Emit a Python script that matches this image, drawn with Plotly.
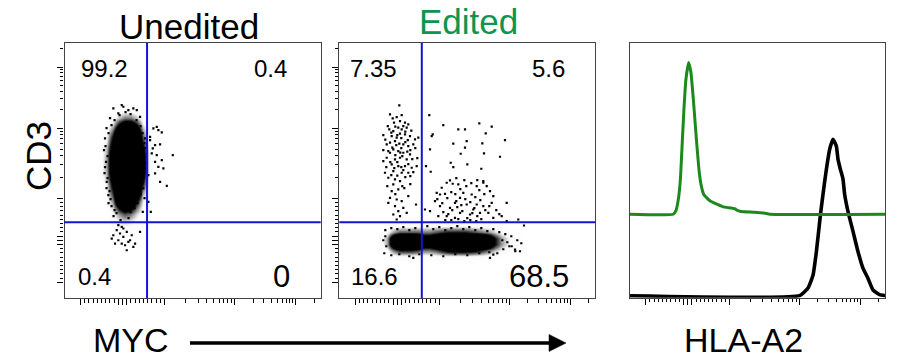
import numpy as np
import plotly.graph_objects as go

# ---------------------------------------------------------------------------
# Data (all event positions are in display channels, 0-256 on each axis)
# ---------------------------------------------------------------------------
PANEL_TITLES = ["Unedited", "Edited"]
QUADRANT_PCT_UNEDITED = ["99.2", "0.4", "0.4", "0"]     # UL, UR, LL, LR
QUADRANT_PCT_EDITED = ["7.35", "5.6", "16.6", "68.5"]   # UL, UR, LL, LR

MYC_GATE = 82.5   # channel of the MYC quadrant gate
CD3_GATE = 76.0   # channel of the CD3 quadrant gate

# logicle-style display scale: linear below 10^3, log above
SCALE_S = [-1.0, 0.0, 1.0, 2.0, 3.0, 3.42]
SCALE_CH = [16.0, 58.0, 100.0, 170.0, 231.0, 257.0]
MAJOR_TICKS = [-1000, -100, 0, 100, 1000, 10000, 100000]
MINOR_TICKS = ([-v for v in range(200, 1000, 100)] + list(range(200, 1000, 100))
               + list(range(2000, 10000, 1000)) + list(range(20000, 100000, 10000))
               + [200000])

# --- Unedited: event density grid (CD3 rows x MYC columns) ---
UNEDITED_MYC_BINS = [36, 42, 48, 54, 60, 66, 72, 78, 84, 90]
UNEDITED_CD3_BINS = [66, 72, 78, 84, 90, 96, 102, 108, 114, 120, 126, 132,
                     138, 144, 150, 156, 162, 168, 174, 180, 186, 192]
UNEDITED_DENSITY = [
    [0, 0, 0, 0.4, 0.6, 0.4, 0.2, 0, 0, 0],
    [0, 0, 0.2, 0.6, 0.8, 0.6, 0.3, 0, 0, 0],
    [0, 0, 0.3, 1, 1.5, 1.2, 0.6, 0.2, 0, 0],
    [0, 0, 0.6, 2, 3, 2.5, 1.2, 0.3, 0, 0],
    [0, 0.2, 1.2, 4, 6, 5, 2.5, 0.6, 0, 0],
    [0, 0.3, 2, 7, 9, 8, 4, 1, 0.1, 0],
    [0, 0.5, 3, 9, 10, 10, 7, 1.5, 0.2, 0],
    [0, 0.8, 4, 10, 10, 10, 9, 2.5, 0.3, 0],
    [0, 1, 5, 10, 10, 10, 10, 4, 0.5, 0],
    [0.2, 1.5, 6, 10, 10, 10, 10, 5, 0.8, 0],
    [0.2, 1.8, 7, 10, 10, 10, 10, 6, 1, 0],
    [0.2, 2, 7, 10, 10, 10, 10, 6, 1, 0],
    [0.2, 2, 7, 10, 10, 10, 10, 6, 1, 0],
    [0.2, 1.8, 7, 10, 10, 10, 10, 6, 1, 0],
    [0.1, 1.5, 6, 10, 10, 10, 10, 5, 0.8, 0],
    [0, 1, 5, 10, 10, 10, 10, 4, 0.5, 0],
    [0, 0.6, 4, 9, 10, 10, 9, 3, 0.3, 0],
    [0, 0.3, 2.5, 7, 9, 9, 7, 2, 0.2, 0],
    [0, 0.1, 1, 4, 6, 6, 4, 1, 0, 0],
    [0, 0, 0.4, 1.5, 2.5, 2.5, 1.5, 0.4, 0, 0],
    [0, 0, 0.1, 0.5, 0.8, 0.8, 0.5, 0.1, 0, 0],
    [0, 0, 0, 0.1, 0.2, 0.2, 0.1, 0, 0, 0],
]
# --- Unedited: individual sparse events ---
UNEDITED_EVENTS = [
    (88.8, 169.7), (92.2, 171.3), (93.8, 168), (97.2, 165.7), (85.5, 161.3),
    (90.5, 153), (95.5, 153.7), (87.2, 144.7), (92.2, 143), (108.2, 143),
    (90.5, 136.3), (97.2, 138), (93.8, 131.3), (90.5, 124.7), (98.8, 129.7),
    (95.5, 116.3), (102.2, 112.3), (85.5, 158), (88.2, 149.7), (86.2, 86.3),
    (78.2, 86.3), (83.8, 96.3),
    (48.8, 189.7), (58.8, 191.3), (63.8, 188), (68.8, 189.7), (72.2, 188),
    (53.8, 184.7), (45.5, 180), (75.5, 181.3), (57.2, 193),
    (40.5, 159.7), (41.5, 136.3), (42.2, 116.3), (43.8, 103), (80.5, 159.7),
    (81.5, 129.7), (78.8, 109.7), (83.8, 123), (39.5, 148), (40, 125),
    (44, 95), (80, 100), (82, 140), (81, 150),
    (53.8, 73), (57.2, 71.3), (58.8, 69.7), (52.2, 68), (62.2, 66.3),
    (55.5, 64.7), (48.8, 63), (58.8, 61.3), (67.2, 63), (75.5, 66.3),
    (53.8, 58), (63.8, 56.3), (57.2, 54.7), (50.5, 54.7), (60.5, 53),
    (68.8, 51.3), (65.5, 58), (47.2, 59.7), (70.5, 54.7), (62.2, 48),
    (42, 170), (44, 165), (41, 152), (43, 142), (40.5, 131), (43, 120),
    (42, 110), (45, 107), (46, 99), (47, 92), (50, 88), (52, 85), (66, 86),
    (70, 90), (73, 95), (76, 104), (78, 115), (79, 121), (80.5, 135),
    (79, 145), (80, 155), (78, 165), (76, 172), (72, 178), (50, 178),
    (47, 173), (55, 183), (66, 184), (61, 186), (49, 82), (64, 80), (56, 78),
]

# --- Edited: event density grid for the CD3-low band ---
EDITED_MYC_BINS = [42, 48, 54, 60, 66, 72, 78, 84, 90, 96, 102, 108, 114, 120,
                   126, 132, 138, 144, 150, 156, 162, 168, 174, 180, 186]
EDITED_CD3_BINS = [36, 42, 48, 54, 60, 66, 72, 78]
EDITED_DENSITY = [
    [0, 0, 0, 0.05, 0.05, 0.05, 0.05, 0.05, 0.05, 0.05, 0.1, 0.1, 0.1, 0.1,
     0.1, 0.1, 0.05, 0.05, 0, 0, 0, 0, 0, 0, 0],
    [0, 0.1, 0.3, 0.4, 0.4, 0.4, 0.4, 0.4, 0.4, 0.4, 0.5, 0.6, 0.6, 0.6,
     0.6, 0.6, 0.5, 0.4, 0.3, 0.2, 0.1, 0.1, 0, 0, 0],
    [0.1, 0.6, 2.5, 4, 4, 4, 3.5, 2.5, 2.5, 3, 4, 5, 5.5, 5.5,
     5.5, 5, 4.5, 3.5, 2.5, 1.5, 0.8, 0.4, 0.2, 0.1, 0],
    [0.3, 2, 7, 10, 10, 10, 9, 6, 6, 7.5, 9, 10, 10, 10,
     10, 10, 10, 9, 7, 4, 2, 1, 0.5, 0.2, 0],
    [0.3, 2, 7, 10, 10, 10, 9, 6, 6, 7.5, 9, 10, 10, 10,
     10, 10, 10, 9, 7, 4, 2, 1, 0.5, 0.2, 0],
    [0.1, 0.6, 2, 3, 3, 3, 3, 2.5, 2.5, 3, 3.5, 4, 4, 4,
     4, 3.5, 3, 2.5, 2, 1.2, 0.6, 0.3, 0.2, 0.1, 0],
    [0, 0.1, 0.4, 0.5, 0.5, 0.6, 0.6, 0.6, 0.6, 0.7, 0.7, 0.7, 0.7, 0.7,
     0.7, 0.6, 0.5, 0.4, 0.3, 0.2, 0.1, 0.1, 0, 0, 0],
    [0, 0, 0.1, 0.15, 0.2, 0.2, 0.2, 0.2, 0.2, 0.2, 0.2, 0.2, 0.2, 0.2,
     0.2, 0.2, 0.15, 0.1, 0.1, 0.05, 0, 0, 0, 0, 0],
]
# --- Edited: individual sparse events ---
EDITED_EVENTS = [
    # CD3+ MYC- column
    (60.0, 192.7), (50.7, 183.7), (53.4, 179.7), (57.4, 181.0), (62.4, 183.0),
    (54.7, 175.4), (60.7, 177.0), (65.7, 175.4), (69.0, 173.7), (64.0, 172.0),
    (59.0, 170.4), (50.0, 168.7), (54.0, 167.0), (62.4, 168.7), (67.4, 170.4),
    (44.0, 163.0), (52.4, 162.0), (57.4, 160.4), (60.7, 164.4), (65.7, 163.7),
    (70.7, 162.0), (75.7, 158.7), (55.7, 157.0), (50.7, 155.4), (47.4, 153.7),
    (60.0, 154.4), (64.0, 153.7), (69.0, 152.0), (74.0, 153.7), (79.0, 160.4),
    (54.0, 148.7), (59.0, 147.0), (50.7, 145.4), (64.0, 145.4), (70.7, 143.7),
    (47.4, 140.4), (55.7, 138.7), (60.7, 140.4), (67.4, 138.7), (44.0, 137.0),
    (52.4, 133.7), (59.0, 132.0), (65.7, 132.0), (72.4, 130.4), (77.4, 132.0),
    (45.7, 125.4), (54.0, 127.0), (62.4, 125.4), (69.0, 125.4), (49.0, 120.4),
    (55.7, 118.7), (60.7, 117.0), (54.0, 113.7), (59.0, 108.7), (52.4, 107.0),
    (50.7, 100.4), (57.4, 98.7), (62.4, 97.0), (69.0, 102.0), (49.0, 95.4),
    (55.7, 92.0), (64.0, 90.4), (59.0, 87.0), (54.0, 83.7), (60.7, 82.0),
    (67.4, 85.4), (57.4, 78.7), (76.7, 93.7),
    (48.5, 172), (52, 165.5), (56, 171.5), (58, 163), (62, 160), (66, 166.5),
    (68.5, 158), (72, 167.5), (46, 158.5), (53, 150.5), (57, 153), (62, 150),
    (66, 156), (71, 148), (76, 150), (49, 147), (56, 143), (63, 142),
    (68, 146.5), (73, 139), (51, 136), (58, 136), (62, 131), (69, 134),
    (74, 126), (47, 131), (55, 130), (64, 128), (71, 122), (78, 140),
    (44, 148), (61, 145.5), (66, 121), (52, 123), (58, 122.5), (63, 112),
    (56, 104), (65, 110), (48, 112), (71, 114),
    # CD3+ MYC+ events
    (90.0, 183.0), (104.0, 173.0), (119.0, 168.7), (125.7, 168.7), (93.4, 163.7),
    (92.4, 162.0), (127.4, 157.0), (114.0, 154.4), (125.7, 150.4), (90.7, 148.7),
    (121.4, 144.4), (111.4, 135.4), (114.0, 131.0), (128.0, 133.7), (86.7, 132.0),
    (91.4, 126.4), (110.7, 117.7), (107.4, 115.4), (113.4, 114.4), (119.0, 113.7),
    (102.4, 110.4), (97.4, 105.4), (100.7, 103.7), (105.7, 104.4), (124.0, 105.4),
    (132.4, 103.7), (137.4, 112.0), (120.7, 100.4), (95.7, 97.0), (115.7, 95.4),
    (127.4, 93.7), (100.7, 92.0), (110.7, 90.4), (134.0, 88.7), (90.7, 87.0),
    (120.7, 85.4), (130.7, 83.7), (107.4, 82.0), (115.7, 80.4), (85.7, 88.7),
    (137.4, 93.7),
    (143.0, 154.7), (144.7, 144.7), (146.4, 164.7), (152.4, 171.4), (165.7, 158.0),
    (160.7, 141.4), (142.0, 129.4), (140.0, 174.7),
    (144.0, 115.4), (147.4, 112.0), (150.7, 107.0), (154.0, 102.0), (152.4, 95.4),
    (144.0, 92.0), (140.7, 85.4), (149.0, 85.4), (167.4, 95.4), (162.4, 82.0),
    (154.0, 80.4), (167.4, 77.0), (179.0, 78.7), (184.7, 72.7), (180.7, 47.0),
    (175.7, 48.7), (172.4, 52.0), (154.0, 43.7), (150.7, 40.4), (74.0, 40.4),
    (144.0, 117.0),
    (98, 99), (103, 95), (108, 100), (112, 106), (117, 97), (122, 93), (126, 99),
    (131, 96), (136, 101), (141, 98), (104, 86), (109, 84), (113, 88), (118, 91),
    (123, 87), (128, 80), (133, 85), (138, 82), (142, 79), (146, 88), (99, 82),
    (106, 78), (112, 78), (119, 79), (125, 77), (131, 78), (137, 77), (116, 104),
    (121, 109), (127, 112), (132, 115), (138, 118), (125, 118), (117, 120),
    (140, 108), (145, 104), (135, 90), (150, 92), (157, 88), (160, 84),
    # fringe of the CD3-low band
    (46, 68), (52, 70), (58, 69), (64, 71), (70, 68), (76, 70), (88, 72),
    (94, 69), (100, 71), (106, 68), (112, 70), (118, 72), (124, 69), (130, 71),
    (136, 68), (142, 70), (148, 67), (154, 69), (160, 66), (166, 64), (172, 62),
    (178, 58), (182, 55), (170, 52), (164, 49), (176, 47), (45, 45), (52, 43),
    (60, 44), (70, 42), (80, 44), (92, 43), (104, 42), (116, 44), (128, 43),
    (140, 45), (150, 46), (158, 45), (47, 52), (44, 58), (46, 62), (163, 58),
    (168, 56),
]

# --- HLA-A2 histograms (channel, % of mode) ---
HLA_EDITED_CH = [0, 43.6, 46.3, 48.8, 50.8, 52.3, 54.3, 56.3, 59.0, 61.3, 63.8,
                 66.8, 69.3, 71.3, 74.3, 80.3, 88.3, 93.6, 105.3, 107.3, 111.3,
                 125.3, 135.3, 140.3, 256]
HLA_EDITED_PCT = [0, 0, 1.4, 6.1, 14.0, 25.7, 41.4, 53.2, 60.0, 56.1, 45.1,
                  29.6, 17.9, 12.0, 7.7, 5.3, 3.8, 2.9, 2.2, 1.6, 1.1,
                  0.8, 0.4, 0, 0]
HLA_EDITED_OFFSET = 32.2
HLA_UNEDITED_CH = [0, 170.3, 178.6, 183.6, 187.0, 191.0, 194.3, 197.0, 200.3,
                   203.6, 207.0, 208.6, 211.0, 213.6, 215.3, 218.6, 223.6,
                   228.6, 233.6, 238.6, 243.6, 250.3, 256]
HLA_UNEDITED_PCT = [0, 0, 3.0, 8.1, 17.5, 31.9, 42.2, 50.0, 57.9,
                    61.8, 59.1, 54.0, 50.0, 46.2, 40.0, 33.3, 25.5,
                    17.5, 10.9, 6.9, 2.3, 0.4, 0]


# ---------------------------------------------------------------------------
# Helpers
# ---------------------------------------------------------------------------
def to_channel(values):
    """Map fluorescence values onto the display channel scale."""
    v = np.asarray(values, dtype=float)
    s = np.where(np.abs(v) <= 1000, v / 1000.0,
                 np.sign(v) * (1 + np.log10(np.maximum(np.abs(v), 1) / 1000.0)))
    return np.interp(s, SCALE_S, SCALE_CH).tolist()


W, H = 908, 360


def px(x):
    return x / W


def py(y):
    return 1 - y / H


FONT = "Liberation Sans, Arial, Helvetica, sans-serif"
FRAME = "#444444"
GATE_COLOR = "#1414d2"
GREEN_TITLE = "#0a9650"
GREEN_LINE = "#1b8a1b"

DENSITY_SCALE = [
    [0.0, "rgba(0,0,0,0)"],
    [0.08, "rgba(0,0,0,0.03)"],
    [0.25, "rgba(0,0,0,0.55)"],
    [0.42, "rgba(0,0,0,1)"],
    [1.0, "rgba(0,0,0,1)"],
]

fig = go.Figure()

# dot plots
for i, (mx, cy, dens, events) in enumerate([
    (UNEDITED_MYC_BINS, UNEDITED_CD3_BINS, UNEDITED_DENSITY, UNEDITED_EVENTS),
    (EDITED_MYC_BINS, EDITED_CD3_BINS, EDITED_DENSITY, EDITED_EVENTS),
]):
    xa = "x" if i == 0 else "x2"
    ya = "y" if i == 0 else "y2"
    fig.add_trace(go.Heatmap(
        x=mx, y=cy, z=dens, zmin=0, zmax=10, zsmooth="best",
        colorscale=DENSITY_SCALE, showscale=False, hoverinfo="skip",
        xaxis=xa, yaxis=ya))
    ex, ey = zip(*events)
    fig.add_trace(go.Scatter(
        x=list(ex), y=list(ey), mode="markers",
        marker=dict(size=2.2, color="black", symbol="square", line=dict(width=0)),
        hoverinfo="skip", showlegend=False, xaxis=xa, yaxis=ya))

# HLA-A2 overlay histograms
fig.add_trace(go.Scatter(
    x=HLA_UNEDITED_CH, y=HLA_UNEDITED_PCT, mode="lines",
    line=dict(color="black", width=3.6, shape="spline", smoothing=0.4),
    hoverinfo="skip", showlegend=False, xaxis="x3", yaxis="y3"))
fig.add_trace(go.Scatter(
    x=HLA_EDITED_CH, y=[p + HLA_EDITED_OFFSET for p in HLA_EDITED_PCT], mode="lines",
    line=dict(color=GREEN_LINE, width=3.0, shape="spline", smoothing=0.4),
    hoverinfo="skip", showlegend=False, xaxis="x3", yaxis="y3"))

major_ch = to_channel(MAJOR_TICKS)
minor_ch = to_channel(MINOR_TICKS)


def tick_axis(domain, rng, anchor, with_ticks=True):
    ax = dict(domain=domain, range=rng, anchor=anchor, showgrid=False,
              zeroline=False, showticklabels=False, showline=True,
              linecolor=FRAME, linewidth=1.3, mirror=True, fixedrange=True)
    if with_ticks:
        ax.update(tickmode="array", tickvals=major_ch, ticks="outside",
                  ticklen=6, tickwidth=1.3, tickcolor="black",
                  minor=dict(tickmode="array", tickvals=minor_ch, ticks="outside",
                             ticklen=3.5, tickwidth=1.1, tickcolor="black"))
    else:
        ax.update(ticks="")
    return ax


Y_DOM = [py(298.3), py(43)]
fig.update_layout(
    width=W, height=H, margin=dict(l=0, r=0, t=0, b=0),
    paper_bgcolor="white", plot_bgcolor="white", showlegend=False,
    xaxis=tick_axis([px(64.5), px(320.7)], [0, 256], "y"),
    yaxis=tick_axis(Y_DOM, [0, 255], "x"),
    xaxis2=tick_axis([px(339.3), px(595.3)], [0, 256], "y2"),
    yaxis2=tick_axis(Y_DOM, [0, 255], "x2"),
    xaxis3=tick_axis([px(629.7), px(885.3)], [0, 256], "y3"),
    yaxis3=tick_axis([py(297.7), py(42.7)], [-0.8, 100], "x3", with_ticks=False),
)

# quadrant gates
shapes = []
for xa, ya in [("x", "y"), ("x2", "y2")]:
    shapes.append(dict(type="line", xref=xa, yref=f"{ya} domain",
                       x0=MYC_GATE, x1=MYC_GATE, y0=0, y1=1,
                       line=dict(color=GATE_COLOR, width=2), layer="above"))
    shapes.append(dict(type="line", xref=f"{xa} domain", yref=ya,
                       x0=0, x1=1, y0=CD3_GATE, y1=CD3_GATE,
                       line=dict(color=GATE_COLOR, width=2), layer="above"))

# MYC arrow
shapes.append(dict(type="line", xref="paper", yref="paper",
                   x0=px(190), x1=px(552), y0=py(343), y1=py(343),
                   line=dict(color="black", width=3.4)))
shapes.append(dict(type="path", xref="paper", yref="paper",
                   path=(f"M {px(549)} {py(334.5)} L {px(566)} {py(343)} "
                         f"L {px(549)} {py(351.5)} Z"),
                   fillcolor="black", line=dict(color="black", width=0.5)))
fig.update_layout(shapes=shapes)

ann = []


def label(text, x, y, size, color="black", angle=0, yanchor="middle"):
    ann.append(dict(text=text, x=px(x), y=py(y), xref="paper", yref="paper",
                    showarrow=False, xanchor="center", yanchor=yanchor,
                    textangle=angle, borderpad=0,
                    font=dict(family=FONT, size=size, color=color)))


label(PANEL_TITLES[0], 188.5, 27, 35)
label(PANEL_TITLES[1], 468.5, 21, 35, color=GREEN_TITLE)
label("CD3", 38, 156, 35, angle=-90)
label("MYC", 131, 360, 34, yanchor="bottom")
label("HLA-A2", 743, 360, 34, yanchor="bottom")

# quadrant percentages
big = {"0", "68.5"}
for pcts, centers in [
    (QUADRANT_PCT_UNEDITED, [(104, 68), (270, 68), (94.5, 276), (281, 276)]),
    (QUADRANT_PCT_EDITED, [(373.5, 68), (548.7, 68), (374.7, 276), (539, 276)]),
]:
    for t, (cx, cy) in zip(pcts, centers):
        label(t, cx, cy, 31 if t in big else 24)

fig.update_layout(annotations=ann)
fig.write_html("out.html")
